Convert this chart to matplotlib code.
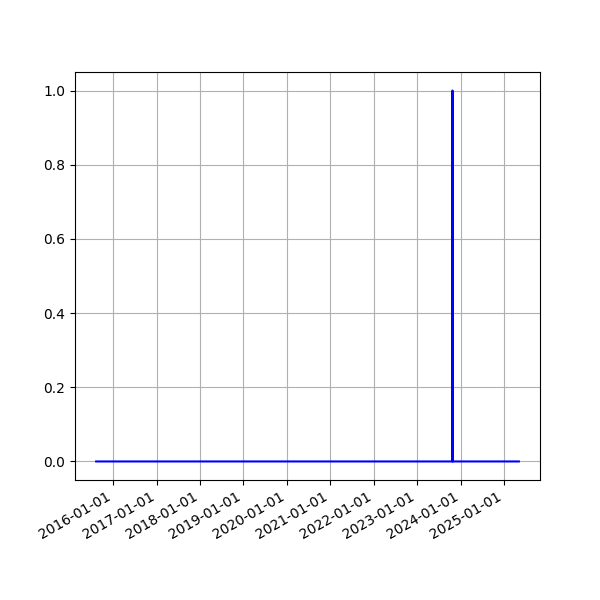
import matplotlib
matplotlib.use("Agg")
import matplotlib.pyplot as plt
import matplotlib.dates as mdates
import numpy as np

dates = np.array(["2015-08-12", "2023-10-24", "2023-10-25", "2023-10-26", "2025-05-05"], dtype="datetime64[D]")
values = [0, 0, 1, 0, 0]

fig, ax = plt.subplots(figsize=(6, 6), dpi=100)
ax.plot(dates, values, color="blue", linewidth=1.5)
ax.xaxis.set_major_locator(mdates.YearLocator())
ax.xaxis.set_major_formatter(mdates.DateFormatter("%Y-%m-%d"))
ax.grid(True)
fig.autofmt_xdate()
fig.savefig("out.png")
